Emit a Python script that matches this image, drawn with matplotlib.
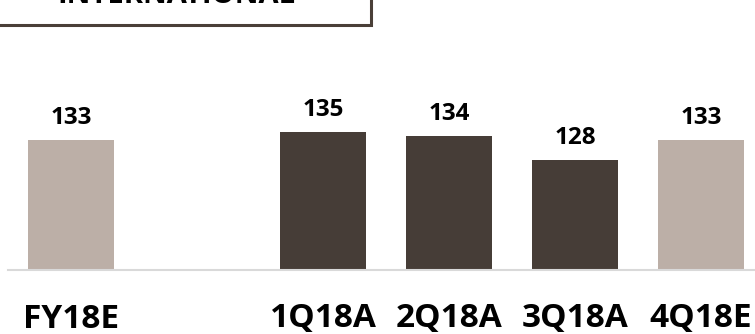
import matplotlib.pyplot as plt
from matplotlib.patches import Rectangle

# chart data
categories = ['FY18E', '1Q18A', '2Q18A', '3Q18A', '4Q18E']
values = [133, 135, 134, 128, 133]
is_estimate = [True, False, False, False, True]
slots = [0, 2, 3, 4, 5]  # gap left after FY18E

dark = '#463d37'
light = '#bcafa7'

plt.rcParams['font.family'] = ['Open Sans', 'DejaVu Sans']

W, H = 755, 334
fig = plt.figure(figsize=(W / 100, H / 100), dpi=100)
# axes spans px 8..764 horizontally, baseline at 270 px from top
ax = fig.add_axes([8 / W, 64 / H, 756 / W, 200 / H])

colors = [light if e else dark for e in is_estimate]
bars = ax.bar(slots, values, width=0.68, color=colors, bottom=0)
ax.set_xlim(-0.5, 5.5)
ax.set_ylim(100.5, 150.5)

for b, v in zip(bars, values):
    ax.annotate(f'{v}', (b.get_x() + b.get_width() / 2, v),
                xytext=(0, 16), textcoords='offset points',
                ha='center', va='center', fontsize=17.5, fontweight='bold',
                color='black')

for s, c in zip(slots, categories):
    ax.text(s, -0.245, c, transform=ax.get_xaxis_transform(),
            ha='center', va='center', fontsize=24, fontweight='bold',
            color='black')

for side in ['top', 'right', 'left']:
    ax.spines[side].set_visible(False)
ax.spines['bottom'].set_color('#d9d9d9')
ax.spines['bottom'].set_linewidth(1.5)
ax.set_xticks([])
ax.set_yticks([])

# title box, mostly cut off at the top
box = Rectangle((-10 / W, (H - 25) / H), 381 / W, 60 / H,
                transform=fig.transFigure, fill=False,
                edgecolor='#4a3f38', linewidth=2.2, clip_on=False)
fig.patches.append(box)
fig.text(176 / W, (H + 4) / H, 'INTERNATIONAL', ha='center', va='center',
         fontsize=21, fontweight='bold', color='black')

fig.savefig('out.png', dpi=100)
